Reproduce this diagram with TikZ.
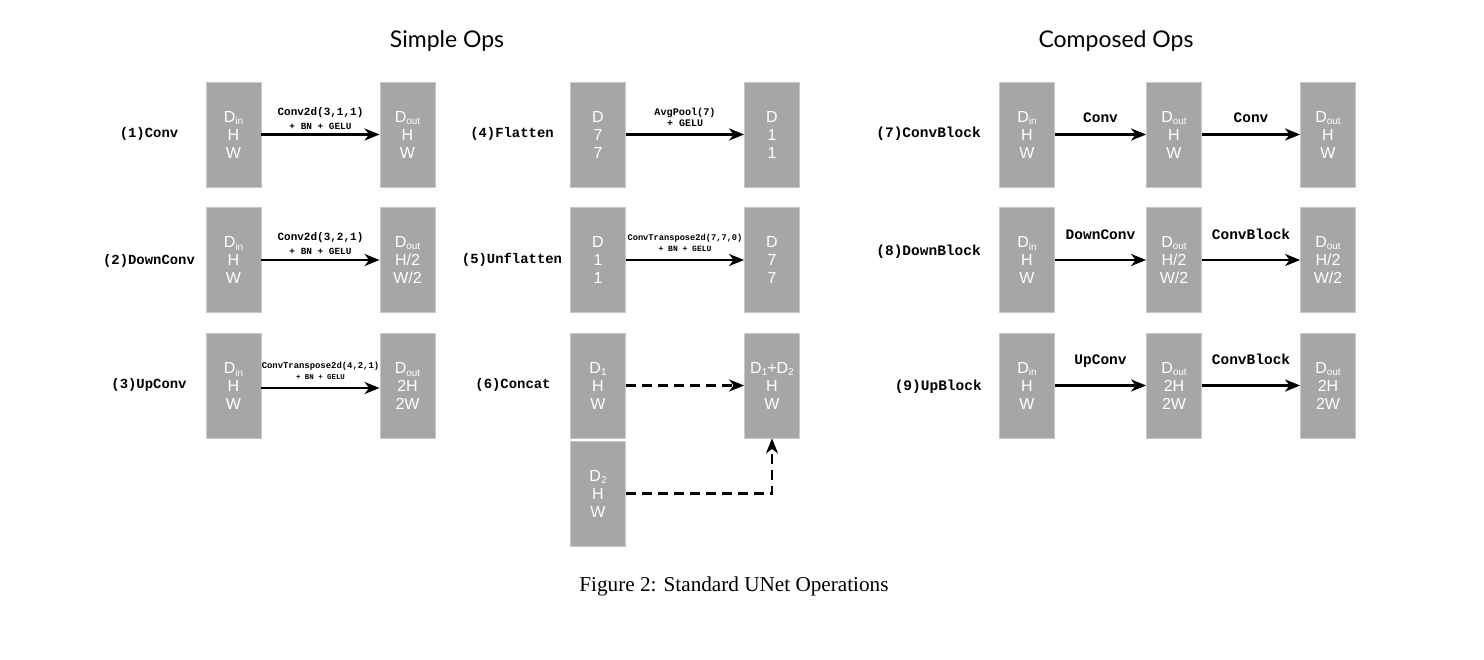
\documentclass[tikz,border=0pt]{standalone}
\usepackage{fontspec}
\setmainfont{Liberation Serif}
\newfontfamily\boxfont{Liberation Sans}
\newfontfamily\titlefont{Lato}
\newfontfamily\opmono{Liberation Mono}
\usetikzlibrary{arrows.meta,calc}
\definecolor{boxgray}{RGB}{166,166,166}
\definecolor{boxedge}{RGB}{200,200,200}
\newcommand\boxsub[1]{\raisebox{-2.5pt}{\fontsize{10}{10}\selectfont #1}}
\newcommand\mfs[1]{\opmono\bfseries\fontsize{#1}{#1}\selectfont}
\tikzset{
  opbox/.style={rectangle, minimum width=55pt, minimum height=105pt, fill=boxgray,
    draw=boxedge, line width=0.8pt, text=white, align=center, inner sep=0pt,
    font=\boxfont\fontsize{16}{18}\selectfont},
  arr/.style={line width=2.4pt, -{Stealth[length=15pt,width=12pt,inset=4.5pt]}},
  darr/.style={arr, dash pattern=on 10pt off 6pt},
  rowlab/.style={anchor=mid, inner sep=0pt, font=\mfs{13.9}},
  rowlabr/.style={anchor=mid east, inner sep=0pt, font=\mfs{14.5}},
  elab/.style={midway, anchor=base, inner sep=0pt},
  title/.style={anchor=base, inner sep=0pt, font=\titlefont\fontsize{23}{23}\selectfont},
}
\begin{document}
\begin{tikzpicture}[x=1pt,y=-1pt]
\useasboundingbox (0,0) rectangle (1484,660);
% titles
\node[title] (t1) at (447,48) {Simple Ops};
\node[title] (t2) at (1116,48) {Composed Ops};
\node[anchor=base, inner sep=0pt, font=\fontsize{21.2}{21.2}\selectfont] (cap) at (734,591) {Figure 2: Standard UNet Operations};

% column 1
\node[rowlab] (l1) at (149,135) {(1)Conv};
\node[rowlab] (l2) at (149,262) {(2)DownConv};
\node[rowlab] (l3) at (149,386) {(3)UpConv};
\node[opbox] (c1a) at (233.5,134.5) {D\boxsub{in}\\H\\W};
\node[opbox] (c1b) at (407.5,134.5) {D\boxsub{out}\\H\\W};
\node[opbox] (c2a) at (233.5,260) {D\boxsub{in}\\H\\W};
\node[opbox] (c2b) at (407.5,260) {D\boxsub{out}\\H/2\\W/2};
\node[opbox] (c3a) at (233.5,386) {D\boxsub{in}\\H\\W};
\node[opbox] (c3b) at (407.5,386) {D\boxsub{out}\\2H\\2W};
\draw[arr] (c1a) -- (c1b)
  node[elab, yshift=5pt, font=\mfs{9.4}] (e1b) {+ BN + GELU}
  node[elab, yshift=19pt, font=\mfs{11}] (e1a) {Conv2d(3,1,1)};
\draw[arr] (c2a) -- (c2b)
  node[elab, yshift=5pt, font=\mfs{9.4}] (e2b) {+ BN + GELU}
  node[elab, yshift=19pt, font=\mfs{11}] (e2a) {Conv2d(3,2,1)};
\draw[arr] ([yshift=-2pt]c3a.east) -- ([yshift=-2pt]c3b.west)
  node[elab, yshift=8.5pt, font=\mfs{7.4}] (e3b) {+ BN + GELU}
  node[elab, yshift=19pt, font=\mfs{8.9}] (e3a) {ConvTranspose2d(4,2,1)};

% column 2
\node[rowlab] (l4) at (512,135) {(4)Flatten};
\node[rowlab] (l5) at (512,261.5) {(5)Unflatten};
\node[rowlab] (l6) at (513,386) {(6)Concat};
\node[opbox] (c4a) at (598,134.5) {D\\7\\7};
\node[opbox] (c4b) at (772,134.5) {D\\1\\1};
\node[opbox] (c5a) at (598,260) {D\\1\\1};
\node[opbox] (c5b) at (772,260) {D\\7\\7};
\node[opbox] (c6a) at (598,385.5) {D\boxsub{1}\\H\\W};
\node[opbox] (c6b) at (598,493.5) {D\boxsub{2}\\H\\W};
\node[opbox] (c6c) at (772,385.5) {D\boxsub{1}+D\boxsub{2}\\H\\W};
\draw[arr] (c4a) -- (c4b)
  node[elab, yshift=8pt, font=\mfs{10}] (e4b) {+ GELU}
  node[elab, yshift=18.5pt, font=\mfs{10.2}] (e4a) {AvgPool(7)};
\draw[arr] (c5a) -- (c5b)
  node[elab, yshift=8.5pt, font=\mfs{8}] (e5b) {+ BN + GELU}
  node[elab, yshift=19.3pt, font=\mfs{8.7}] (e5a) {ConvTranspose2d(7,7,0)};
\draw[darr] (c6a) -- (c6c);
\draw[darr] (c6b.east) -| (c6c.south);

% column 3
\node[rowlabr] (l7) at (981,135) {(7)ConvBlock};
\node[rowlabr] (l8) at (981,253.5) {(8)DownBlock};
\node[rowlabr] (l9) at (982,388) {(9)UpBlock};
\node[opbox] (c7a) at (1027,134.5) {D\boxsub{in}\\H\\W};
\node[opbox] (c7b) at (1174,134.5) {D\boxsub{out}\\H\\W};
\node[opbox] (c7c) at (1328,134.5) {D\boxsub{out}\\H\\W};
\node[opbox] (c8a) at (1027,260) {D\boxsub{in}\\H\\W};
\node[opbox] (c8b) at (1174,260) {D\boxsub{out}\\H/2\\W/2};
\node[opbox] (c8c) at (1328,260) {D\boxsub{out}\\H/2\\W/2};
\node[opbox] (c9a) at (1027,385.5) {D\boxsub{in}\\H\\W};
\node[opbox] (c9b) at (1174,385.5) {D\boxsub{out}\\2H\\2W};
\node[opbox] (c9c) at (1328,385.5) {D\boxsub{out}\\2H\\2W};
\draw[arr] (c7a) -- (c7b) node[elab, yshift=11.5pt, font=\mfs{14.5}] (e7a) {Conv};
\draw[arr] (c7b) -- (c7c) node[elab, yshift=11.5pt, font=\mfs{14.5}] (e7b) {Conv};
\draw[arr] (c8a) -- (c8b) node[elab, yshift=20.5pt, font=\mfs{14.5}] (e8a) {DownConv};
\draw[arr] (c8b) -- (c8c) node[elab, yshift=20.5pt, font=\mfs{14.5}] (e8b) {ConvBlock};
\draw[arr] (c9a) -- (c9b) node[elab, yshift=21pt, font=\mfs{14.5}] (e9a) {UpConv};
\draw[arr] (c9b) -- (c9c) node[elab, yshift=21pt, font=\mfs{14.5}] (e9b) {ConvBlock};
\end{tikzpicture}
\end{document}
